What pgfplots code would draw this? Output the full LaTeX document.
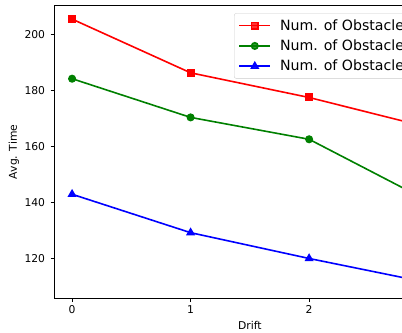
\documentclass[border=0pt]{standalone}
\usepackage{fontspec}
\setmainfont{DejaVu Sans}
\usepackage{pgfplots}
\pgfplotsset{compat=1.18}
\definecolor{mplred}{HTML}{FF0000}
\definecolor{mplgreen}{HTML}{008000}
\definecolor{mplblue}{HTML}{0000FF}
\begin{document}
\begin{tikzpicture}[x=1bp,y=1bp]
\begin{axis}[
  scale only axis, width=391.1bp, height=292.8bp,
  xmin=-0.15, xmax=3.15, ymin=105.9, ymax=210.3,
  xtick={0,1,2,3}, ytick={120,140,160,180,200},
  tick align=outside, xtick pos=bottom, ytick pos=left,
  major tick length=3.7bp,
  every tick/.style={black, line width=0.85bp},
  axis line style={line width=0.85bp, black},
  tick label style={font=\fontsize{10.8}{12}\selectfont, text=black},
  yticklabel style={xshift=-2bp},
  /pgf/number format/assume math mode=true,
  xlabel={Drift}, ylabel={Avg. Time},
  label style={font=\fontsize{10.8}{12}\selectfont},
  xlabel style={at={(rel axis cs:0.5,-0.10587)}, anchor=base},
  ylabel style={at={(rel axis cs:-0.10304,0.5)}, anchor=center},
  legend style={at={(rel axis cs:0.4595,0.9734)}, anchor=north west,
    draw=black!20, rounded corners=2bp, fill=white, fill opacity=0.8, text opacity=1,
    inner xsep=4.3bp, inner ysep=2bp, font=\fontsize{14.2}{16}\selectfont,
    nodes={inner xsep=0bp, inner ysep=0bp, minimum height=20.3bp},
    /tikz/every odd column/.append style={column sep=8.9bp},
    cells={anchor=west}},
  legend image code/.code={\draw[mark repeat=2,mark phase=2] plot coordinates {(0bp,0bp) (15.5bp,0bp) (31bp,0bp)};},
]
\addplot[mplred, line width=1.6bp, mark=square*, mark size=3.2bp, mark options={solid}]
  coordinates {(0,205.45) (1,186.3) (2,177.5) (3,166.9)};
\addlegendentry{Num. of Obstacles = 15}
\addplot[mplgreen, line width=1.6bp, mark=*, mark size=3.2bp, mark options={solid}]
  coordinates {(0,184.2) (1,170.4) (2,162.6) (3,140.7)};
\addlegendentry{Num. of Obstacles = 10}
\addplot[mplblue, line width=1.6bp, mark=triangle*, mark size=3.7bp, mark options={solid}]
  coordinates {(0,143.0) (1,129.3) (2,120.1) (3,111.5)};
\addlegendentry{Num. of Obstacles = 5}
\coordinate (bl) at (rel axis cs:0,0);
\coordinate (tl) at (rel axis cs:0,1);
\end{axis}
\pgfresetboundingbox
\useasboundingbox ([shift={(-54.3bp,-34.7bp)}]bl) rectangle ([shift={(347.7bp,5.5bp)}]tl);
\end{tikzpicture}
\end{document}
